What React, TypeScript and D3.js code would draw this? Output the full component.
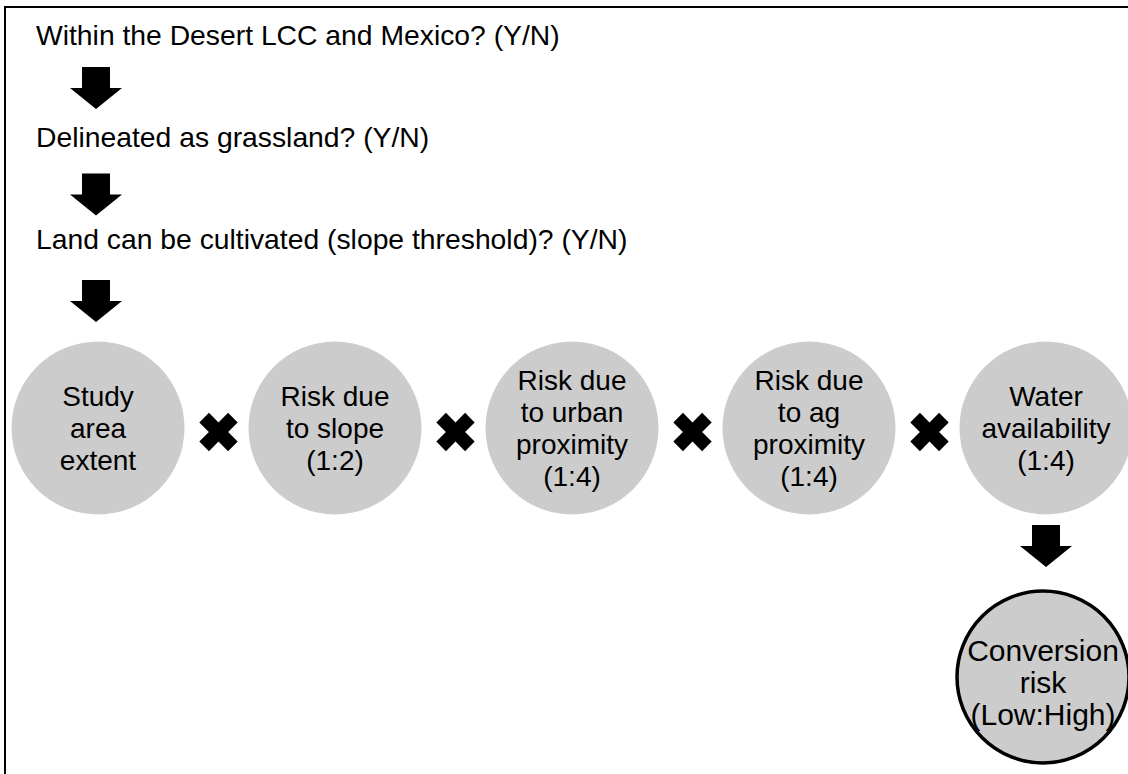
import { useEffect, useRef } from 'react';
import * as d3 from 'd3';

// screening questions, top to bottom
const steps = [
  'Within the Desert LCC and Mexico? (Y/N)',
  'Delineated as grassland? (Y/N)',
  'Land can be cultivated (slope threshold)? (Y/N)',
];

// risk factors multiplied together, left to right
const factors = [
  ['Study', 'area', 'extent'],
  ['Risk due', 'to slope', '(1:2)'],
  ['Risk due', 'to urban', 'proximity', '(1:4)'],
  ['Risk due', 'to ag', 'proximity', '(1:4)'],
  ['Water', 'availability', '(1:4)'],
];

const outcome = ['Conversion', 'risk', '(Low:High)'];

const W = 1128;
const H = 774;
const FONT = "'Liberation Sans', Arial, Helvetica, sans-serif";

export default function App() {
  const ref = useRef<SVGSVGElement>(null);

  useEffect(() => {
    if (!ref.current) return;
    const svg = d3.select(ref.current);
    svg.selectAll('*').remove();

    // frame (right and bottom edges run off the picture)
    svg.append('rect')
      .attr('x', 5).attr('y', 7)
      .attr('width', W + 20).attr('height', H + 20)
      .attr('fill', 'none').attr('stroke', '#000').attr('stroke-width', 2);

    // --- scales ---
    const idx = d3.range(steps.length);
    const yStep  = d3.scaleLinear().domain([0, steps.length - 1]).range([45, 249]);
    const yArrow = d3.scaleLinear().domain([0, steps.length - 1]).range([67, 280]);
    const xFactor = d3.scalePoint<number>()
      .domain(d3.range(factors.length))
      .range([98, 1046]);
    const rowY = 428;
    const R = 86.5;
    const outY = 677;

    const fs = 28;
    const lh = 32;

    // block arrow pointing down, top at (0,0)
    const arrowPath = (() => {
      const p = d3.path();
      const sw = 14, hw = 26, sh = 21, hh = 21;
      p.moveTo(-sw, 0); p.lineTo(sw, 0); p.lineTo(sw, sh); p.lineTo(hw, sh);
      p.lineTo(0, sh + hh); p.lineTo(-hw, sh); p.lineTo(-sw, sh); p.closePath();
      return p.toString();
    })();

    // question lines
    svg.append('g').selectAll('text')
      .data(steps)
      .enter().append('text')
      .attr('x', 36)
      .attr('y', (_d: string, i: number) => yStep(i))
      .attr('font-family', FONT).attr('font-size', 28.3).attr('fill', '#000')
      .text((d: string) => d);

    // arrows under each question
    svg.append('g').selectAll('path')
      .data(idx)
      .enter().append('path')
      .attr('d', arrowPath)
      .attr('transform', (i: number) => `translate(96,${yArrow(i)})`)
      .attr('fill', '#000');

    // factor circles
    const nodes = svg.append('g').selectAll('g')
      .data(factors)
      .enter().append('g')
      .attr('transform', (_d: string[], i: number) => `translate(${xFactor(i)},${rowY})`);

    nodes.append('circle').attr('r', R).attr('fill', '#cccccc');

    nodes.each(function (lines: string[]) {
      const n = lines.length;
      d3.select(this).selectAll('text')
        .data(lines)
        .enter().append('text')
        .attr('text-anchor', 'middle')
        .attr('y', (_l: string, j: number) => (j - (n - 1) / 2) * lh + 9.5)
        .attr('font-family', FONT).attr('font-size', fs).attr('fill', '#000')
        .text((l: string) => l);
    });

    // multiplication marks between circles
    const cross = d3.symbol().type(d3.symbolCross).size(920);
    svg.append('g').selectAll('path')
      .data(d3.range(factors.length - 1))
      .enter().append('path')
      .attr('d', cross() as string)
      .attr('transform', (i: number) =>
        `translate(${((xFactor(i) as number) + (xFactor(i + 1) as number)) / 2 + 2},${rowY + 4}) rotate(45)`)
      .attr('fill', '#000');

    // final arrow and outcome
    const lastX = xFactor(factors.length - 1) as number;
    svg.append('path')
      .attr('d', arrowPath)
      .attr('transform', `translate(${lastX},525)`)
      .attr('fill', '#000');

    const out = svg.append('g').attr('transform', `translate(${lastX - 3},${outY})`);
    out.append('circle').attr('r', R - 0.5)
      .attr('fill', '#cccccc').attr('stroke', '#000').attr('stroke-width', 3.5);
    out.selectAll('text')
      .data(outcome)
      .enter().append('text')
      .attr('text-anchor', 'middle')
      .attr('y', (_l: string, j: number) => (j - (outcome.length - 1) / 2) * lh + 16)
      .attr('font-family', FONT).attr('font-size', 30).attr('fill', '#000')
      .text((l: string) => l);
  }, []);

  return (
    <div style={{ position: 'absolute', left: 0, top: 0, width: W, height: H, background: '#fff' }}>
      <svg ref={ref} width={W} height={H} style={{ display: 'block' }} />
    </div>
  );
}
